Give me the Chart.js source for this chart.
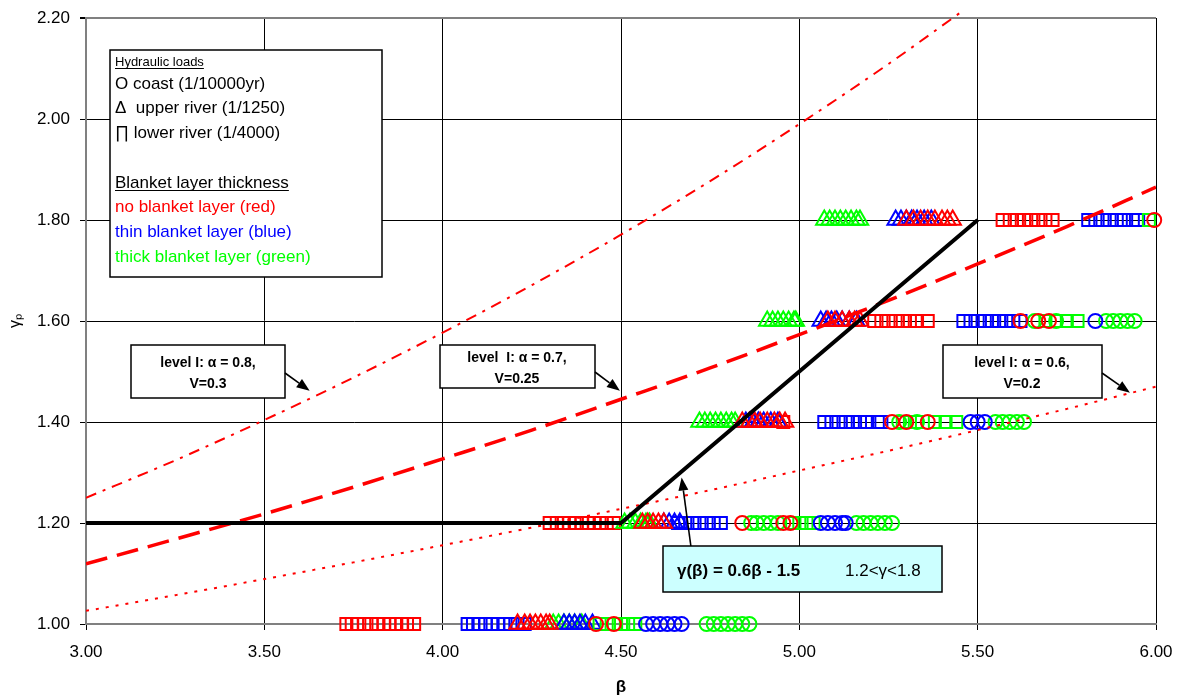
<!DOCTYPE html>
<html>
<head>
<meta charset="utf-8">
<script src="https://cdn.jsdelivr.net/npm/chart.js@4.4.1/dist/chart.umd.min.js"></script>
<style>
  body { margin: 0; background: #fff; }
  #wrap { width: 1179px; height: 700px; }
</style>
</head>
<body>
<div id="wrap"><canvas id="chart" width="1179" height="700"></canvas></div>
<script>
// gamma levels of the marker rows
const rowGamma = [1.0, 1.2, 1.4, 1.6, 1.8];

// beta of each marker, one sub-array per row of rowGamma
// squares = lower river, triangles = upper river, circles = coast
const squaresRed = [
  [3.73, 3.745, 3.76, 3.78, 3.80, 3.82, 3.835, 3.85, 3.87, 3.885, 3.90, 3.92],
  [4.30, 4.32, 4.34, 4.355, 4.37, 4.39, 4.41, 4.425, 4.44, 4.46, 4.48],
  [4.955],
  [5.21, 5.23, 5.25, 5.27, 5.29, 5.31, 5.33, 5.36],
  [5.57, 5.59, 5.61, 5.63, 5.65, 5.67, 5.69, 5.71]
];
const squaresBlue = [
  [4.07, 4.085, 4.10, 4.12, 4.14, 4.155, 4.17, 4.19, 4.21, 4.23],
  [4.66, 4.68, 4.70, 4.72, 4.74, 4.76, 4.78],
  [5.07, 5.09, 5.11, 5.13, 5.15, 5.17, 5.19, 5.22, 5.23],
  [5.46, 5.48, 5.50, 5.52, 5.54, 5.56, 5.58, 5.60, 5.62],
  [5.81, 5.83, 5.85, 5.87, 5.89, 5.91, 5.935, 5.95]
];
const squaresGreen = [
  [4.44, 4.46, 4.48, 4.50, 4.52, 4.54],
  [4.98, 5.00, 5.02, 5.04],
  [5.29, 5.31, 5.33, 5.38, 5.41, 5.44],
  [5.69, 5.72, 5.75, 5.78],
  [5.98]
];
const trianglesRed = [
  [4.21, 4.23, 4.245, 4.26, 4.275, 4.29, 4.30],
  [4.56, 4.575, 4.59, 4.605, 4.62],
  [4.84, 4.86, 4.875, 4.89, 4.91, 4.93, 4.945, 4.96],
  [5.08, 5.10, 5.12, 5.14, 5.155, 5.17],
  [5.30, 5.32, 5.34, 5.36, 5.38, 5.40, 5.415, 5.43]
];
const trianglesBlue = [
  [4.34, 4.355, 4.37, 4.385, 4.40, 4.42],
  [4.62, 4.635, 4.65, 4.665],
  [4.85, 4.87, 4.885, 4.90, 4.92, 4.94],
  [5.06, 5.075, 5.09, 5.105, 5.12, 5.14, 5.16],
  [5.27, 5.285, 5.30, 5.315, 5.33, 5.35, 5.37]
];
const trianglesGreen = [
  [4.31, 4.325, 4.34, 4.355, 4.37, 4.39],
  [4.51, 4.525, 4.54, 4.555, 4.57, 4.58],
  [4.72, 4.735, 4.75, 4.765, 4.78, 4.795, 4.81, 4.82],
  [4.91, 4.925, 4.94, 4.955, 4.97, 4.985, 4.99],
  [5.07, 5.085, 5.10, 5.115, 5.13, 5.145, 5.16, 5.17]
];
const circlesRed = [
  [4.43, 4.48],
  [4.84, 4.955, 4.975],
  [5.26, 5.30, 5.36],
  [5.62, 5.67, 5.70],
  [5.995]
];
const circlesBlue = [
  [4.57, 4.59, 4.61, 4.63, 4.65, 4.67],
  [5.06, 5.08, 5.10, 5.12, 5.13],
  [5.48, 5.50, 5.52],
  [5.83],
  []
];
const circlesGreen = [
  [4.74, 4.76, 4.78, 4.80, 4.82, 4.84, 4.86],
  [4.865, 4.88, 4.90, 4.92, 4.94, 5.16, 5.18, 5.20, 5.22, 5.24, 5.26],
  [5.28, 5.33, 5.55, 5.57, 5.59, 5.61, 5.63],
  [5.66, 5.72, 5.86, 5.88, 5.90, 5.92, 5.94],
  []
];

// level I curves
const curveBeta = [3.0, 3.25, 3.5, 3.75, 4.0, 4.25, 4.5, 4.75, 5.0, 5.25, 5.5, 5.75, 6.0];
const level06 = [1.026, 1.057, 1.089, 1.122, 1.156, 1.191, 1.228, 1.265, 1.304, 1.343, 1.384, 1.426, 1.470];
const level07 = [1.119, 1.168, 1.218, 1.271, 1.327, 1.384, 1.445, 1.507, 1.573, 1.641, 1.713, 1.787, 1.865];
const level08Beta = [3.0, 3.25, 3.5, 3.75, 4.0, 4.25, 4.5, 4.75, 5.0, 5.25, 5.46];
const level08 = [1.250, 1.324, 1.404, 1.488, 1.577, 1.671, 1.771, 1.877, 1.990, 2.109, 2.215];

// gamma(beta) = 0.6 beta - 1.5, limited to 1.2 .. 1.8
const fitBeta = [3.0, 4.5, 5.5];
const fitGamma = [1.2, 1.2, 1.8];

const RED = '#ff0000', BLUE = '#0000ff', GREEN = '#00ff00';

function rowsToPoints(rows) {
    return rows.flatMap((betas, i) => betas.map(b => ({x: b, y: rowGamma[i]})));
}
function pairs(xs, ys) {
    return xs.map((x, i) => ({x: x, y: ys[i]}));
}
function markers(rows, color, style, radius) {
    return {
        type: 'scatter',
        data: rowsToPoints(rows),
        pointStyle: style,
        radius: radius,
        borderColor: color,
        backgroundColor: 'rgba(0,0,0,0)',
        borderWidth: 2,
        clip: false
    };
}

Chart.defaults.font.family = '"Liberation Sans", Arial, sans-serif';
Chart.defaults.color = '#000';

// boxes, texts and arrows drawn over the plot
const notes = {
    id: 'notes',
    afterDraw(chart) {
        const ctx = chart.ctx;
        const xs = chart.scales.x, ys = chart.scales.y;
        const F = '"Liberation Sans", Arial, sans-serif';

        function box(x, y, w, h, fill) {
            ctx.fillStyle = fill;
            ctx.fillRect(x, y, w, h);
            ctx.strokeStyle = '#000';
            ctx.lineWidth = 1.5;
            ctx.strokeRect(x, y, w, h);
        }
        function text(t, x, y, font, color, underline) {
            ctx.font = font;
            ctx.fillStyle = color;
            ctx.textBaseline = 'alphabetic';
            ctx.fillText(t, x, y);
            if (underline) {
                const w = ctx.measureText(t).width;
                ctx.strokeStyle = color;
                ctx.lineWidth = 1.2;
                ctx.beginPath();
                ctx.moveTo(x, y + 2.5);
                ctx.lineTo(x + w, y + 2.5);
                ctx.stroke();
            }
        }
        function arrow(x1, y1, x2, y2) {
            const a = Math.atan2(y2 - y1, x2 - x1);
            const len = 13, half = 5;
            ctx.strokeStyle = '#000';
            ctx.lineWidth = 1.6;
            ctx.beginPath();
            ctx.moveTo(x1, y1);
            ctx.lineTo(x2 - len * Math.cos(a), y2 - len * Math.sin(a));
            ctx.stroke();
            ctx.fillStyle = '#000';
            ctx.beginPath();
            ctx.moveTo(x2, y2);
            ctx.lineTo(x2 - len * Math.cos(a) + half * Math.sin(a), y2 - len * Math.sin(a) - half * Math.cos(a));
            ctx.lineTo(x2 - len * Math.cos(a) - half * Math.sin(a), y2 - len * Math.sin(a) + half * Math.cos(a));
            ctx.closePath();
            ctx.fill();
        }

        ctx.save();
        ctx.textAlign = 'left';

        // legend
        box(110, 50, 272, 227, '#fff');
        text('Hydraulic loads', 115, 66, '13px ' + F, '#000', true);
        text('O coast (1/10000yr)', 115, 89, '17px ' + F, '#000');
        text('\u0394  upper river (1/1250)', 115, 113, '17px ' + F, '#000');
        text('\u220F lower river (1/4000)', 115, 138, '17px ' + F, '#000');
        text('Blanket layer thickness', 115, 188, '17px ' + F, '#000', true);
        text('no blanket layer (red)', 115, 212, '17px ' + F, RED);
        text('thin blanket layer (blue)', 115, 237, '17px ' + F, BLUE);
        text('thick blanket layer (green)', 115, 262, '17px ' + F, GREEN);

        // level I labels
        ctx.textAlign = 'center';
        box(131, 345, 154, 53, '#fff');
        text('level I: \u03B1 = 0.8,', 208, 367, 'bold 14px ' + F, '#000');
        text('V=0.3', 208, 388, 'bold 14px ' + F, '#000');
        arrow(285, 373, xs.getPixelForValue(3.627), ys.getPixelForValue(1.462));

        box(440, 345, 155, 43, '#fff');
        text('level  I: \u03B1 = 0.7,', 517, 362, 'bold 14px ' + F, '#000');
        text('V=0.25', 517, 383, 'bold 14px ' + F, '#000');
        arrow(595, 372, xs.getPixelForValue(4.497), ys.getPixelForValue(1.462));

        box(943, 345, 159, 53, '#fff');
        text('level I: \u03B1 = 0.6,', 1022, 367, 'bold 14px ' + F, '#000');
        text('V=0.2', 1022, 388, 'bold 14px ' + F, '#000');
        arrow(1102, 373, xs.getPixelForValue(5.927), ys.getPixelForValue(1.458));

        // fitted line label
        ctx.textAlign = 'left';
        arrow(691, 547, xs.getPixelForValue(4.67), ys.getPixelForValue(1.29));
        box(663, 546, 279, 46, '#ccffff');
        text('\u03B3(\u03B2) = 0.6\u03B2 - 1.5', 677, 576, 'bold 17px ' + F, '#000');
        text('1.2<\u03B3<1.8', 845, 576, '17px ' + F, '#000');

        ctx.restore();
    }
};

new Chart(document.getElementById('chart'), {
    type: 'scatter',
    data: {
        datasets: [
            {
                type: 'line',
                data: pairs(fitBeta, fitGamma),
                borderColor: '#000',
                borderWidth: 4,
                pointRadius: 0,
                fill: false
            },
            {
                type: 'line',
                data: pairs(curveBeta, level06),
                borderColor: RED,
                borderWidth: 2,
                borderDash: [3, 7],
                pointRadius: 0,
                cubicInterpolationMode: 'monotone',
                fill: false
            },
            {
                type: 'line',
                data: pairs(curveBeta, level07),
                borderColor: RED,
                borderWidth: 3.5,
                borderDash: [22, 10],
                pointRadius: 0,
                cubicInterpolationMode: 'monotone',
                fill: false
            },
            {
                type: 'line',
                data: pairs(level08Beta, level08),
                borderColor: RED,
                borderWidth: 2,
                borderDash: [11, 7, 3, 7],
                pointRadius: 0,
                cubicInterpolationMode: 'monotone',
                fill: false,
                clip: {left: 0, right: 0, top: 12, bottom: 0}
            },
            markers(circlesRed, RED, 'circle', 7),
            markers(circlesBlue, BLUE, 'circle', 7),
            markers(circlesGreen, GREEN, 'circle', 7),
            markers(squaresGreen, GREEN, 'rect', 8.5),
            markers(trianglesRed, RED, 'triangle', 9.5),
            markers(trianglesBlue, BLUE, 'triangle', 9.5),
            markers(trianglesGreen, GREEN, 'triangle', 9.5),
            markers(squaresBlue, BLUE, 'rect', 8.5),
            markers(squaresRed, RED, 'rect', 8.5)
        ]
    },
    options: {
        responsive: false,
        devicePixelRatio: 1,
        animation: false,
        layout: {padding: {left: 0, top: 18, right: 23, bottom: 0}},
        plugins: {
            legend: {display: false},
            tooltip: {enabled: false}
        },
        scales: {
            x: {
                type: 'linear',
                min: 3,
                max: 6,
                afterBuildTicks: scale => {
                    scale.ticks = [3, 3.5, 4, 4.5, 5, 5.5, 6].map(v => ({value: v}));
                },
                afterFit: scale => {
                    scale.height = 76;
                    scale.paddingLeft = 0;
                    scale.paddingRight = 0;
                },
                ticks: {
                    callback: v => v.toFixed(2),
                    font: {size: 17},
                    color: '#000',
                    padding: 12,
                    maxRotation: 0
                },
                grid: {color: '#000', lineWidth: 1, tickLength: 6, tickColor: '#000'},
                border: {color: '#808080', width: 2},
                title: {display: true, text: '\u03B2', font: {size: 17, weight: 'bold'}, padding: {top: 0, bottom: 2}}
            },
            y: {
                type: 'linear',
                min: 1,
                max: 2.2,
                afterBuildTicks: scale => {
                    scale.ticks = [1.0, 1.2, 1.4, 1.6, 1.8, 2.0, 2.2].map(v => ({value: v}));
                },
                afterFit: scale => {
                    scale.width = 86;
                    scale.paddingTop = 0;
                    scale.paddingBottom = 0;
                },
                ticks: {
                    callback: v => v.toFixed(2),
                    font: {size: 17},
                    color: '#000',
                    padding: 10
                },
                grid: {
                    color: c => (c.tick && Math.abs(c.tick.value - 2.2) < 1e-6) ? '#808080' : '#000',
                    lineWidth: c => (c.tick && Math.abs(c.tick.value - 2.2) < 1e-6) ? 2 : 1,
                    tickLength: 6,
                    tickColor: '#000'
                },
                border: {color: '#808080', width: 2},
                title: {display: true, text: '\u03B3\u209A', font: {size: 16}, padding: {top: 6, bottom: 0}}
            }
        }
    },
    plugins: [notes]
});
</script>
</body>
</html>
